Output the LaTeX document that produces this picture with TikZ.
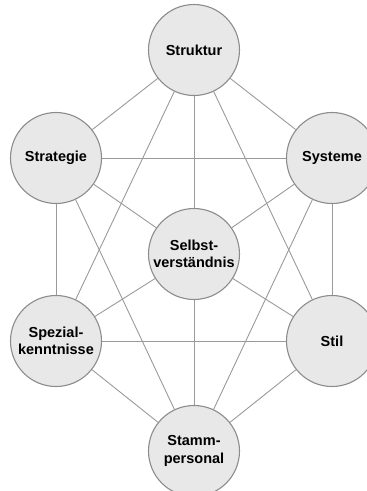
\documentclass[tikz,border=0pt]{standalone}
\usepackage{fontspec}
\setmainfont{Liberation Sans}
\definecolor{circlefill}{HTML}{E8E8E8}
\definecolor{circleedge}{HTML}{8C8C8C}
\definecolor{linkgray}{HTML}{9A9A9A}
\begin{document}
\begin{tikzpicture}[x=1pt,y=-1pt,
  factor/.style={circle, draw=circleedge, fill=circlefill, line width=1.1pt,
    minimum size=91pt, inner sep=0pt, align=center,
    font=\bfseries\fontsize{14.5}{17.5}\selectfont},
  link/.style={draw=linkgray, line width=0.9pt}]
\useasboundingbox (0,0) rectangle (367,491);

% the seven factors
\node[factor] (struktur) at (194,50)  {Struktur};
\node[factor] (strategie) at (56,158) {Strategie};
\node[factor] (systeme) at (332,158)  {Systeme};
\node[factor] (selbst) at (194,254)   {Selbst-\\verständnis};
\node[factor] (spezial) at (56,341)   {Spezial-\\kenntnisse};
\node[factor] (stil) at (332,341)     {Stil};
\node[factor] (stamm) at (194,451)    {Stamm-\\personal};

% connections between the factors
\foreach \a/\b in {struktur/strategie, struktur/systeme, struktur/selbst,
    struktur/spezial, struktur/stil,
    strategie/systeme, strategie/selbst, strategie/spezial, strategie/stamm,
    systeme/selbst, systeme/stil, systeme/stamm,
    selbst/spezial, selbst/stil, selbst/stamm,
    spezial/stil, spezial/stamm, stil/stamm}
  \draw[link] (\a) -- (\b);
\end{tikzpicture}
\end{document}
